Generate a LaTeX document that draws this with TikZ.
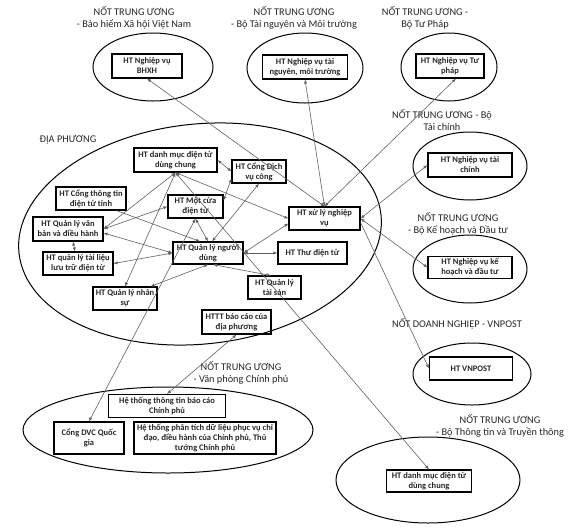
\documentclass[tikz,border=0pt]{standalone}
\usepackage{fontspec}
\setmainfont{Carlito}
\usetikzlibrary{shapes.geometric,arrows.meta}
\begin{document}
\begin{tikzpicture}[x=1pt,y=-1pt,
  box/.style={draw=black, line width=1.1pt, inner sep=1pt, align=center, text=black!85,
    font=\fontsize{8.5}{10}\selectfont\bfseries},
  sz/.style n args={2}{minimum width=#1pt, minimum height=#2pt},
  grp/.style={draw=black, line width=1pt, ellipse, inner sep=0pt},
  lbl/.style={align=center, font=\fontsize{10.3}{12}\selectfont, inner sep=0pt, text=black!85},
  link/.style={draw=black!62, line width=0.6pt, {Latex[length=4pt,width=3.2pt]}-{Latex[length=4pt,width=3.2pt]}},
  onelink/.style={draw=black!62, line width=0.6pt, -{Latex[length=4pt,width=3.2pt]}},
]
\fill[white] (0,0) rectangle (576,531);
\useasboundingbox (0,0) rectangle (576,531);

% group ellipses
\node[grp, minimum width=120pt, minimum height=68pt] (e1) at (153,67) {};
\node[grp, minimum width=116pt, minimum height=70pt] (e2) at (305,68) {};
\node[grp, minimum width=96pt, minimum height=68pt] (e3) at (449,67) {};
\node[grp, minimum width=114pt, minimum height=68pt] (e4) at (470,166) {};
\node[grp, minimum width=114pt, minimum height=68pt] (e5) at (470,269) {};
\node[grp, minimum width=118pt, minimum height=62pt] (e6) at (472,374) {};
\node[grp, minimum width=184pt, minimum height=86pt] (e7) at (428,480) {};
\node[grp, minimum width=364pt, minimum height=220pt, rotate=6] (eloc) at (200,234) {};
\node[grp, minimum width=290pt, minimum height=86pt] (evp) at (168,430) {};

% group labels
\node[lbl] (l1) at (134,18) {NỐT TRUNG ƯƠNG\\- Bảo hiểm Xã hội Việt Nam};
\node[lbl] (l2) at (294,18) {NỐT TRUNG ƯƠNG\\- Bộ Tài nguyên và Môi trường};
\node[lbl] (l3) at (425,18) {NỐT TRUNG ƯƠNG -\\Bộ Tư Pháp};
\node[lbl] (l4) at (442,120) {NỐT TRUNG ƯƠNG - Bộ\\Tài chính};
\node[lbl] (l5) at (458,224) {NỐT TRUNG ƯƠNG\\- Bộ Kế hoạch và Đầu tư};
\node[lbl] (l6) at (457,324) {NỐT DOANH NGHIỆP - VNPOST};
\node[lbl] (l7) at (500,426) {NỐT TRUNG ƯƠNG\\- Bộ Thông tin và Truyền thông};
\node[lbl] (l8) at (241,373) {NỐT TRUNG ƯƠNG\\- Văn phòng Chính phủ};
\node[lbl] (l9) at (68,140) {ĐỊA PHƯƠNG};

% central boxes
\node[box, sz={70}{24}] (bhxh) at (147,66) {HT Nghiệp vụ\\BHXH};
\node[box, sz={85}{24}] (tnmt) at (305,67) {HT Nghiệp vụ tài\\nguyên, môi trường};
\node[box, sz={68}{24}] (tp) at (450,66) {HT Nghiệp vụ Tư\\pháp};
\node[box, sz={84}{24}] (tc) at (470,165) {HT Nghiệp vụ tài\\chính};
\node[box, sz={84}{22}] (kh) at (470,267.5) {HT Nghiệp vụ kế\\hoạch và đầu tư};
\node[box, sz={83}{23}] (vnp) at (471,368.5) {HT VNPOST};
\node[box, sz={85}{22}] (dmqg) at (429,481) {HT danh mục điện tử\\dùng chung};

% local boxes
\node[box, sz={83}{24}] (dm) at (175.5,160) {HT danh mục điện tử\\dùng chung};
\node[box, sz={54}{23}] (dvc) at (259,171.5) {HT Cổng Dịch\\vụ công};
\node[box, sz={70}{23}] (ctt) at (91,198.5) {HT Cổng thông tin\\điện tử tỉnh};
\node[box, sz={55}{23}] (mc) at (195.5,206.5) {HT Một cửa\\điện tử};
\node[box, sz={71}{23}] (xl) at (324.5,218.5) {HT xử lý nghiệp\\vụ};
\node[box, sz={70}{24}] (vb) at (68,229) {HT Quản lý văn\\bản và điều hành};
\node[box, sz={70}{22}] (nd) at (208,253) {HT Quản lý người\\dùng};
\node[box, sz={69}{22}] (tdt) at (312.5,253) {HT Thư điện tử};
\node[box, sz={70}{23}] (tl) at (78,263.5) {HT quản lý tài liệu\\lưu trữ điện tử};
\node[box, sz={53}{23}] (ts) at (274.5,287.5) {HT Quản lý\\tài sản};
\node[box, sz={64}{23}] (ns) at (125,298.5) {HT Quản lý nhân\\sự};
\node[box, sz={69}{24}] (httt) at (236.5,322) {HTTT báo cáo của\\địa phương};

% government boxes
\node[box, sz={117}{23}] (bccp) at (167,406) {Hệ thống thông tin báo cáo\\Chính phủ};
\node[box, sz={70}{32}] (dvcqg) at (89,438) {Cổng DVC Quốc\\gia};
\node[box, sz={142}{32}] (pt) at (205,438) {Hệ thống phân tích dữ liệu phục vụ chỉ\\đạo, điều hành của Chính phủ, Thủ\\tướng Chính phủ};

% connectors inside local
\draw[link] (dm.east) -- (dvc.west);
\draw[link] (dm.south) -- (vb.east);
\draw[link] (dm.south) -- (ns.north);
\draw[link] (dm.south) -- (xl.west);
\draw[link] (dm.south) -- (dmqg.north);
\draw[link] ([yshift=5pt]dvc.south west) -- ([yshift=-6pt]mc.north east);
\draw[link] (dvc.south) -- ([xshift=4pt]nd.north);
\draw[onelink] ([xshift=-10pt]ctt.south east) -- ([xshift=-8pt]nd.north);
\draw[link] (vb.east) -- (mc.west);
\draw[link] ([yshift=-4pt]vb.east) -- (nd.west);
\draw[link] ([xshift=5pt]vb.south) -- ([xshift=-3pt]tl.north);
\draw[link] (tl.east) -- (nd.west);
\draw[link] (mc.south) -- (nd.north);
\draw[link] ([xshift=-7pt]ns.north east) -- (nd.south);
\draw[link] (nd.east) -- ([yshift=-5pt]xl.west);
\draw[link] (nd.east) -- (tdt.west);
\draw[link] ([xshift=5pt]nd.south) -- ([xshift=-4pt]ts.north);
\draw[link] (mc.south) -- (dvcqg.north);
\draw[link] (httt.south) -- (bccp.north);

% connectors to central nodes
\draw[link] (xl.north) -- (bhxh.south);
\draw[link] (xl.north) -- (tnmt.south);
\draw[link] (xl.north) -- ([xshift=6pt]tp.south);
\draw[link] (xl.east) -- (tc.west);
\draw[link] (xl.east) -- (kh.west);
\draw[onelink] ([yshift=-4pt]xl.east) -- (vnp.west);
\end{tikzpicture}
\end{document}
